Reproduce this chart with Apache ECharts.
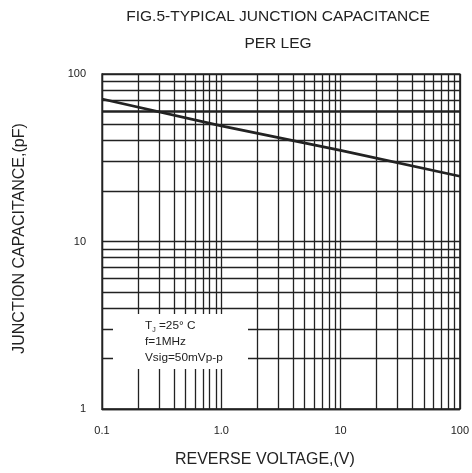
<!DOCTYPE html>
<html>
<head>
<meta charset="utf-8">
<script src="https://cdn.jsdelivr.net/npm/echarts@6/dist/echarts.min.js"></script>
<style>
html,body{margin:0;padding:0;background:#fff;}
#chart{width:472px;height:473px;}
</style>
</head>
<body>
<div id="chart"></div>
<script>
// Data
var curveVoltage = [0.1, 1, 10, 100];
var curveCapacitance = [71, 49, 35, 24.5];
var xTickLabels = ['0.1', '1.0', '10', '100'];
var yTickLabels = ['1', '10', '100'];
var xMinorGrid = [0.2,0.3,0.4,0.5,0.6,0.7,0.8,0.9, 2,3,4,5,6,7,8,9, 20,30,40,50,60,70,80,90];
var yMinorGrid = [2,3,4,5,6,7,8,9, 20,30,40,50,70,80,90];
var yBoldGrid = [60];

var FONT = '"Liberation Sans", Arial, sans-serif';
var INK = '#222';

var chart = echarts.init(document.getElementById('chart'));

var markData = [];
xMinorGrid.forEach(function (v) { markData.push({ xAxis: v }); });
yMinorGrid.forEach(function (v) { markData.push({ yAxis: v }); });
yBoldGrid.forEach(function (v) { markData.push({ yAxis: v, lineStyle: { width: 2.6 } }); });

var option = {
  animation: false,
  backgroundColor: '#fff',
  title: {
    text: 'FIG.5-TYPICAL JUNCTION CAPACITANCE\nPER LEG',
    left: 278,
    top: 3,
    padding: 0,
    textAlign: 'center',
    textStyle: { fontFamily: FONT, fontSize: 15.5, fontWeight: 'normal', color: INK, lineHeight: 27 }
  },
  grid: {
    left: 102, right: 11, top: 74, bottom: 62,
    show: true, borderColor: INK, borderWidth: 1.3, backgroundColor: 'transparent'
  },
  xAxis: {
    type: 'log', logBase: 10, min: 0.1, max: 100,
    name: 'REVERSE VOLTAGE,(V)',
    nameLocation: 'middle', nameGap: 43,
    nameTextStyle: { fontFamily: FONT, fontSize: 16, color: INK, padding: [0, 32, 0, 0] },
    axisLine: { show: true, lineStyle: { color: INK, width: 1.3 } },
    axisTick: { show: false },
    axisLabel: {
      fontFamily: FONT, fontSize: 11, color: INK, margin: 16,
      formatter: function (v, i) { return xTickLabels[i]; }
    },
    splitLine: { show: true, lineStyle: { color: INK, width: 1.3 } }
  },
  yAxis: {
    type: 'log', logBase: 10, min: 1, max: 100,
    name: 'JUNCTION CAPACITANCE,(pF)',
    nameLocation: 'middle', nameGap: 74, nameRotate: 90,
    nameTextStyle: { fontFamily: FONT, fontSize: 16, color: INK, padding: [0, 0, 0, 6] },
    axisLine: { show: true, lineStyle: { color: INK, width: 1.3 } },
    axisTick: { show: false },
    axisLabel: {
      fontFamily: FONT, fontSize: 11, color: INK, margin: 16,
      formatter: function (v, i) { return yTickLabels[i]; }
    },
    splitLine: { show: true, lineStyle: { color: INK, width: 1.3 } }
  },
  series: [
    {
      type: 'line',
      data: [],
      silent: true,
      markLine: {
        silent: true,
        symbol: ['none', 'none'],
        label: { show: false },
        lineStyle: { color: INK, width: 1.3, type: 'solid' },
        data: markData
      }
    },
    {
      type: 'line',
      data: curveVoltage.map(function (v, i) { return [v, curveCapacitance[i]]; }),
      showSymbol: false,
      lineStyle: { color: INK, width: 2.6 },
      z: 5
    }
  ],
  graphic: [
    {
      type: 'rect', z: 100,
      shape: { x: 113, y: 314, width: 135, height: 55 },
      style: { fill: '#fff' }
    },
    {
      type: 'text', z: 101, left: 145, top: 320,
      style: {
        text: '{a|T}{s|J}{a| =25° C}\n{a|f=1MHz}\n{a|Vsig=50mVp-p}',
        rich: {
          a: { fontFamily: FONT, fontSize: 11.8, fill: INK, lineHeight: 16 },
          s: { fontFamily: FONT, fontSize: 7, fill: INK, lineHeight: 16, verticalAlign: 'bottom', padding: [4, 0, 0, 0] }
        }
      }
    }
  ]
};
chart.setOption(option);
</script>
</body>
</html>
